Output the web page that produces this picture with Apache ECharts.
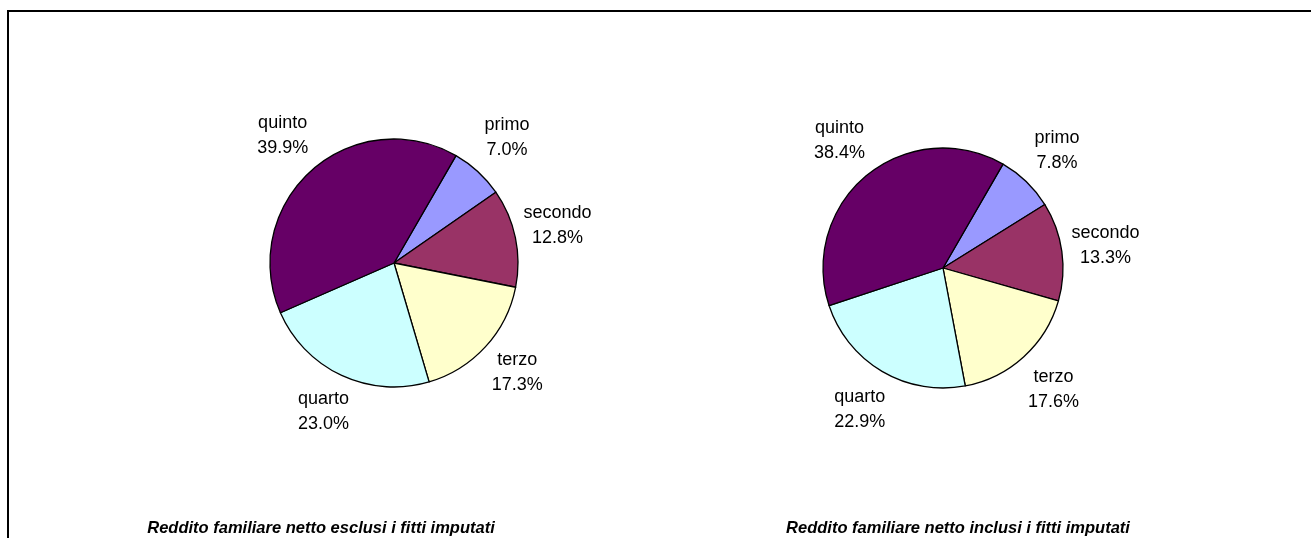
<!DOCTYPE html>
<html>
<head>
<meta charset="utf-8">
<script src="https://cdn.jsdelivr.net/npm/echarts@6/dist/echarts.min.js"></script>
<style>
  html, body { margin: 0; padding: 0; background: #ffffff; }
  #chart { width: 1311px; height: 538px; }
</style>
</head>
<body>
<div id="chart"></div>
<script>
// Income quintiles and their share of total net family income (%)
const categories = ['primo', 'secondo', 'terzo', 'quarto', 'quinto'];
const esclusiFitti = [7.0, 12.8, 17.3, 23.0, 39.9];
const inclusiFitti = [7.8, 13.3, 17.6, 22.9, 38.4];
const titles = [
  'Reddito familiare netto esclusi i fitti imputati',
  'Reddito familiare netto inclusi i fitti imputati'
];
const sliceColors = ['#9999FF', '#993366', '#FFFFCC', '#CCFFFF', '#660066'];

const START_ANGLE = 60;
const pies = [
  { values: esclusiFitti, cx: 394, cy: 263, r: 124, labelGap: 43, labelDy: -3, titleX: 316 },
  { values: inclusiFitti, cx: 943, cy: 268, r: 120, labelGap: 44, labelDy: 0, titleX: 953 }
];

const FONT = '"Liberation Sans", Arial, sans-serif';

// Place each label centred on the radial line through its slice's middle
function labelPlacer(pie) {
  const total = pie.values.reduce((a, b) => a + b, 0);
  return function (params) {
    let before = 0;
    for (let i = 0; i < params.dataIndex; i++) before += pie.values[i];
    const mid = (before + pie.values[params.dataIndex] / 2) / total;
    const a = (START_ANGLE - mid * 360) * Math.PI / 180;
    const R = pie.r + pie.labelGap;
    return {
      x: pie.cx + R * Math.cos(a),
      y: pie.cy - R * Math.sin(a) + pie.labelDy,
      align: 'center',
      verticalAlign: 'middle'
    };
  };
}

const series = pies.map(pie => ({
  type: 'pie',
  center: [pie.cx, pie.cy],
  radius: [0, pie.r],
  startAngle: START_ANGLE,
  clockwise: true,
  avoidLabelOverlap: false,
  animation: false,
  silent: true,
  data: categories.map((c, i) => ({
    name: c,
    value: pie.values[i],
    itemStyle: { color: sliceColors[i] }
  })),
  itemStyle: { borderColor: '#000000', borderWidth: 1.3 },
  label: {
    show: true,
    position: 'outside',
    formatter: p => p.name + '\n' + p.value.toFixed(1) + '%',
    fontFamily: FONT,
    fontSize: 18,
    lineHeight: 25,
    color: '#000000'
  },
  labelLine: { show: false },
  labelLayout: labelPlacer(pie),
  emphasis: { disabled: true }
}));

const chart = echarts.init(document.getElementById('chart'), null, { renderer: 'canvas' });
chart.setOption({
  backgroundColor: '#ffffff',
  animation: false,
  title: pies.map((pie, i) => ({
    text: titles[i],
    left: pie.titleX,
    top: 515,
    textAlign: 'center',
    textStyle: {
      fontFamily: FONT,
      fontStyle: 'italic',
      fontWeight: 'bold',
      fontSize: 16.5,
      color: '#000000'
    }
  })),
  graphic: [{
    type: 'polyline',
    silent: true,
    shape: { points: [[8, 540], [8, 11], [1311, 11]] },
    style: { stroke: '#000000', lineWidth: 2, fill: null }
  }],
  series: series
});
</script>
</body>
</html>
